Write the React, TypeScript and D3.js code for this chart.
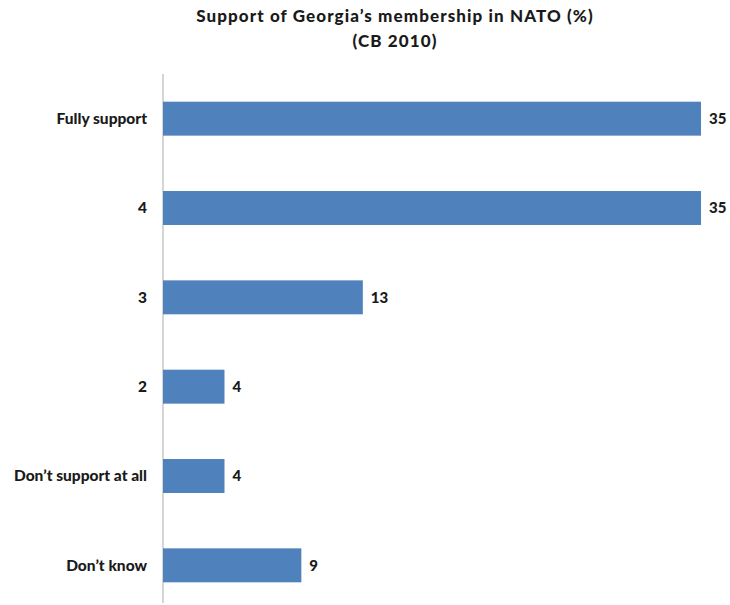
import React from "react";
import { scaleBand, scaleLinear } from "d3";

const categories = [
    "Fully support",
    "4",
    "3",
    "2",
    "Don\u2019t support at all",
    "Don\u2019t know",
];
const values = [35, 35, 13, 4, 4, 9];
const titleLines = ["Support of Georgia\u2019s membership in NATO (%)", "(CB 2010)"];

const width = 730;
const height = 605;
const font = "Lato, 'Open Sans', sans-serif";

const App: React.FC = () => {
    const xScale = scaleLinear().domain([0, 35]).range([163, 701]);
    const yScale = scaleBand<string>()
        .domain(categories)
        .range([74, 610])
        .paddingInner(0.62)
        .paddingOuter(0.31);

    return (
        <svg
            width={width}
            height={height}
            style={{ position: "absolute", left: 0, top: 0, background: "#fff" }}
        >
            {titleLines.map((t, i) => (
                <text
                    key={t}
                    x={395}
                    y={22 + i * 25}
                    textAnchor="middle"
                    fontFamily={font}
                    fontWeight="900"
                    fontSize={17}
                    letterSpacing={1.1}
                    fill="#1a1a1a"
                >
                    {t}
                </text>
            ))}
            <line
                x1={xScale(0)}
                x2={xScale(0)}
                y1={yScale.range()[0]}
                y2={603}
                stroke="#c8c8c8"
                strokeWidth={1.5}
            />
            {categories.map((c, i) => {
                const y = yScale(c)!;
                const bh = yScale.bandwidth();
                return (
                    <g key={c}>
                        <rect
                            x={xScale(0)}
                            y={y}
                            width={xScale(values[i]) - xScale(0)}
                            height={bh}
                            fill="#4f81bd"
                        />
                        <text
                            x={147}
                            y={y + bh / 2}
                            dy="0.35em"
                            textAnchor="end"
                            fontFamily={font}
                            fontWeight="900"
                            fontSize={15.5}
                            fill="#1a1a1a"
                        >
                            {c}
                        </text>
                        <text
                            x={xScale(values[i]) + 8}
                            y={y + bh / 2}
                            dy="0.35em"
                            fontFamily={font}
                            fontWeight="900"
                            fontSize={15}
                            fill="#1a1a1a"
                        >
                            {values[i]}
                        </text>
                    </g>
                );
            })}
        </svg>
    );
};

export default App;
